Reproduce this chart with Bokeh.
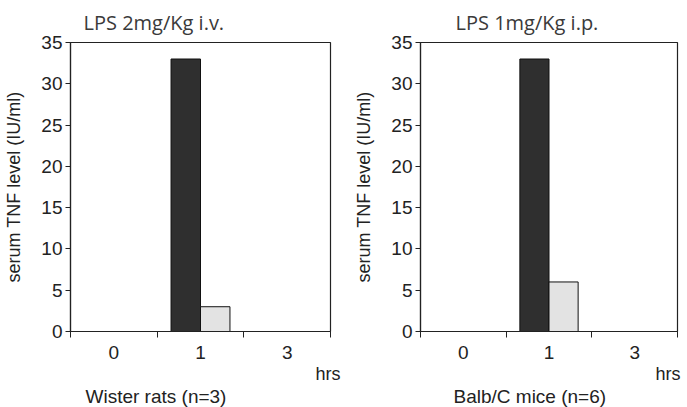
from bokeh.plotting import figure
from bokeh.models import (ColumnDataSource, Range1d, FixedTicker, Title)
from bokeh.layouts import row
from bokeh.transform import dodge
from bokeh.embed import file_html
from bokeh.resources import INLINE

hours = ["0", "1", "3"]
rats_dark = [0, 33, 0]
rats_light = [0, 3, 0]
mice_dark = [0, 33, 0]
mice_light = [0, 6, 0]
y_ticks = [0, 5, 10, 15, 20, 25, 30, 35]

titles = ["LPS 2mg/Kg i.v.", "LPS 1mg/Kg i.p."]
groups = ["Wister rats (n=3)", "Balb/C mice (n=6)"]
y_label = "serum TNF level (IU/ml)"
x_unit = "hrs"

INK = "#222222"
DARK = "#2f2f2f"
LIGHT = "#e3e3e3"
TICK_FONT = "Liberation Sans"


def panel(dark, light, title, group, left, right, width, title_offset,
          group_offset, unit_offset):
    pos = [i + 0.5 for i in range(len(hours))]
    src = ColumnDataSource(dict(pos=pos, hours=hours, dark=dark, light=light))
    p = figure(width=width, height=407, output_backend="svg", toolbar_location=None,
               x_range=Range1d(0, len(hours)), y_range=Range1d(0, 35),
               min_border_left=left, min_border_right=right,
               min_border_top=42, min_border_bottom=76)
    p.title.text = title
    p.title.text_font = "Open Sans"
    p.title.text_font_size = "20px"
    p.title.text_font_style = "normal"
    p.title.text_color = "#3a3a3a"
    p.title.offset = title_offset
    p.title.standoff = 13
    p.background_fill_color = "white"
    p.border_fill_color = "white"
    p.outline_line_color = INK
    p.outline_line_width = 1.2
    p.xgrid.visible = False
    p.ygrid.visible = False

    p.vbar(x=dodge("pos", -0.17, range=p.x_range), top="dark", bottom=0, width=0.34,
           source=src, fill_color=DARK, line_color="#111111", line_width=1)
    p.vbar(x=dodge("pos", 0.17, range=p.x_range), top="light", bottom=0, width=0.34,
           source=src, fill_color=LIGHT, line_color="#111111", line_width=1)

    xa = p.xaxis[0]
    xa.ticker = FixedTicker(ticks=pos, minor_ticks=list(range(len(hours) + 1)))
    xa.major_label_overrides = {pos[i]: hours[i] for i in range(len(hours))}
    xa.major_tick_in = 0
    xa.major_tick_out = 0
    xa.minor_tick_in = 0
    xa.minor_tick_out = 6
    xa.minor_tick_line_color = INK
    xa.axis_line_color = INK
    xa.axis_line_width = 1.2
    xa.major_label_standoff = 8
    xa.major_label_text_font = TICK_FONT
    xa.major_label_text_font_size = "19px"
    xa.major_label_text_color = INK

    ya = p.yaxis[0]
    ya.ticker = FixedTicker(ticks=y_ticks, minor_ticks=[])
    ya.major_tick_in = 0
    ya.major_tick_out = 5
    ya.major_tick_line_color = INK
    ya.axis_line_color = INK
    ya.axis_line_width = 1.2
    ya.major_label_standoff = 3
    ya.major_label_text_font = TICK_FONT
    ya.major_label_text_font_size = "19px"
    ya.major_label_text_color = INK
    ya.axis_label = y_label
    ya.axis_label_text_font = TICK_FONT
    ya.axis_label_text_font_size = "18px"
    ya.axis_label_text_font_style = "normal"
    ya.axis_label_text_color = INK
    ya.axis_label_standoff = 14

    p.add_layout(Title(text=x_unit, align="right", offset=unit_offset, standoff=0,
                       text_font=TICK_FONT, text_font_size="18px",
                       text_font_style="normal", text_color=INK), "below")
    p.add_layout(Title(text=group, align="left", offset=group_offset, standoff=0,
                       text_font=TICK_FONT, text_font_size="19px",
                       text_font_style="normal", text_color=INK), "below")
    return p


p1 = panel(rats_dark, rats_light, titles[0], groups[0], 70, 21, 351, 13, 15, -10)
p2 = panel(mice_dark, mice_light, titles[1], groups[1], 66, 10, 336, 35, 33, -3)
layout = row(p1, p2, spacing=0)
open("out.html", "w").write(file_html(layout, INLINE))
